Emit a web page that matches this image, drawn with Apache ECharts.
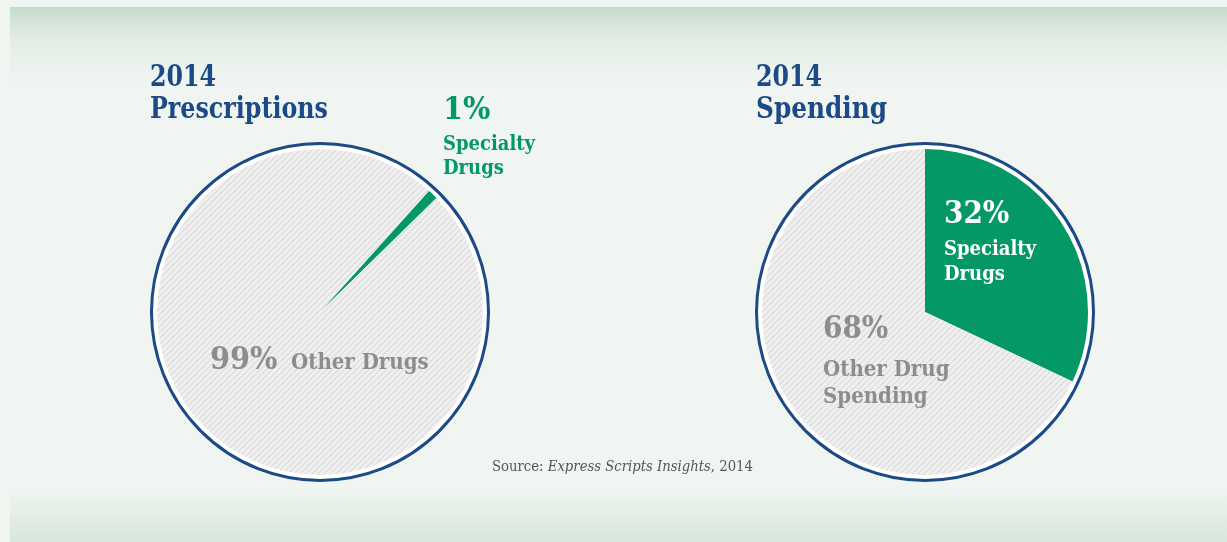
<!DOCTYPE html>
<html><head><meta charset="utf-8">
<script src="https://cdn.jsdelivr.net/npm/echarts@6/dist/echarts.min.js"></script>
<style>html,body{margin:0;padding:0;background:#f1f5f2}#c{width:1227px;height:542px}</style>
</head><body><div id="c"></div>
<script>
// Data
const year = '2014';
const chartTitles = ['Prescriptions', 'Spending'];
const categories = ['Specialty Drugs', 'Other Drugs'];
const prescriptionsShare = [1, 99];
const spendingShare = [32, 68];
const otherLabels = ['Other Drugs', 'Other Drug', 'Spending'];
const specialtyLabel = ['Specialty', 'Drugs'];
const sourceText = ['Source: ', 'Express Scripts Insights', ', 2014'];

const BLUE = '#1b4a87', GREEN = '#039865', GREY = '#8d8d8f';
const FONT = '"DejaVu Serif Condensed", "DejaVu Serif", serif';

function hatch() {
  const c = document.createElement('canvas');
  c.width = 6; c.height = 6;
  const g = c.getContext('2d');
  g.fillStyle = '#f0f0f0'; g.fillRect(0, 0, 6, 6);
  g.strokeStyle = '#dddddd'; g.lineWidth = 1.3;
  g.beginPath();
  g.moveTo(-1, 7); g.lineTo(7, -1);
  g.moveTo(-4, 4); g.lineTo(4, -4);
  g.moveTo(2, 10); g.lineTo(10, 2);
  g.stroke();
  return { image: c, repeat: 'repeat' };
}
const pattern = hatch();

const L = [320, 312], R = [925, 312], RIN = 163;

function pieSeries(center, vals, startAngle) {
  return {
    type: 'pie', center: center, radius: [0, RIN], startAngle: startAngle, clockwise: true,
    silent: true, label: { show: false }, labelLine: { show: false }, z: 3,
    itemStyle: { borderWidth: 0 },
    data: vals.map((v, i) => ({ name: categories[i], value: v, itemStyle: { color: i === 0 ? GREEN : pattern } }))
  };
}

// baseline-based placement
function txt(x, base, text, size, color, sx) {
  return { type: 'text', x: x, y: base - 0.8 * size, z: 10, scaleX: sx || 1,
    style: { text: text, font: 'bold ' + size + 'px ' + FONT, fill: color, verticalAlign: 'top' } };
}

const chart = echarts.init(document.getElementById('c'));
chart.setOption({
  animation: false,
  series: [pieSeries(L, prescriptionsShare, 48), pieSeries(R, spendingShare, 90)],
  graphic: [
    { type: 'rect', z: -10, shape: { x: 10, y: 7, width: 1217, height: 535 },
      style: { fill: new echarts.graphic.LinearGradient(0, 0, 0, 1, [
        { offset: 0, color: '#c4dbcb' }, { offset: 0.06, color: '#e3ede6' }, { offset: 0.14, color: '#f0f5f1' },
        { offset: 0.9, color: '#f0f5f1' }, { offset: 1, color: '#d8e6dc' }]) } },
    { type: 'circle', z: 1, shape: { cx: L[0], cy: L[1], r: 168.5 }, style: { fill: '#fff', stroke: BLUE, lineWidth: 3 } },
    { type: 'circle', z: 1, shape: { cx: R[0], cy: R[1], r: 168.5 }, style: { fill: '#fff', stroke: BLUE, lineWidth: 3 } },
    txt(150, 87, year, 29, BLUE, 0.91),
    txt(150, 119, chartTitles[0], 29, BLUE, 0.91),
    txt(756, 87, year, 29, BLUE, 0.91),
    txt(756, 119, chartTitles[1], 29, BLUE, 0.95),
    txt(443, 120, prescriptionsShare[0] + '%', 32, GREEN),
    txt(443, 151, specialtyLabel[0], 20, GREEN),
    txt(443, 175, specialtyLabel[1], 20, GREEN),
    txt(210, 370, prescriptionsShare[1] + '%', 32, GREY),
    txt(291, 370, otherLabels[0], 22, GREY),
    txt(944, 224, spendingShare[0] + '%', 31, '#fff'),
    txt(944, 256, specialtyLabel[0], 20, '#fff'),
    txt(944, 281, specialtyLabel[1], 20, '#fff'),
    txt(823, 339, spendingShare[1] + '%', 31, GREY),
    txt(823, 377, otherLabels[1], 22, GREY),
    txt(823, 404, otherLabels[2], 22, GREY),
    { type: 'text', x: 492, y: 473 - 13, z: 10, scaleX: 0.98, style: {
      text: '{a|' + sourceText[0] + '}{b|' + sourceText[1] + '}{a|' + sourceText[2] + '}',
      verticalAlign: 'top',
      rich: { a: { font: '15px ' + FONT, fill: '#555', color: '#555' }, b: { font: 'italic 15px ' + FONT, fill: '#555', color: '#555' } } } }
  ]
});
</script></body></html>
